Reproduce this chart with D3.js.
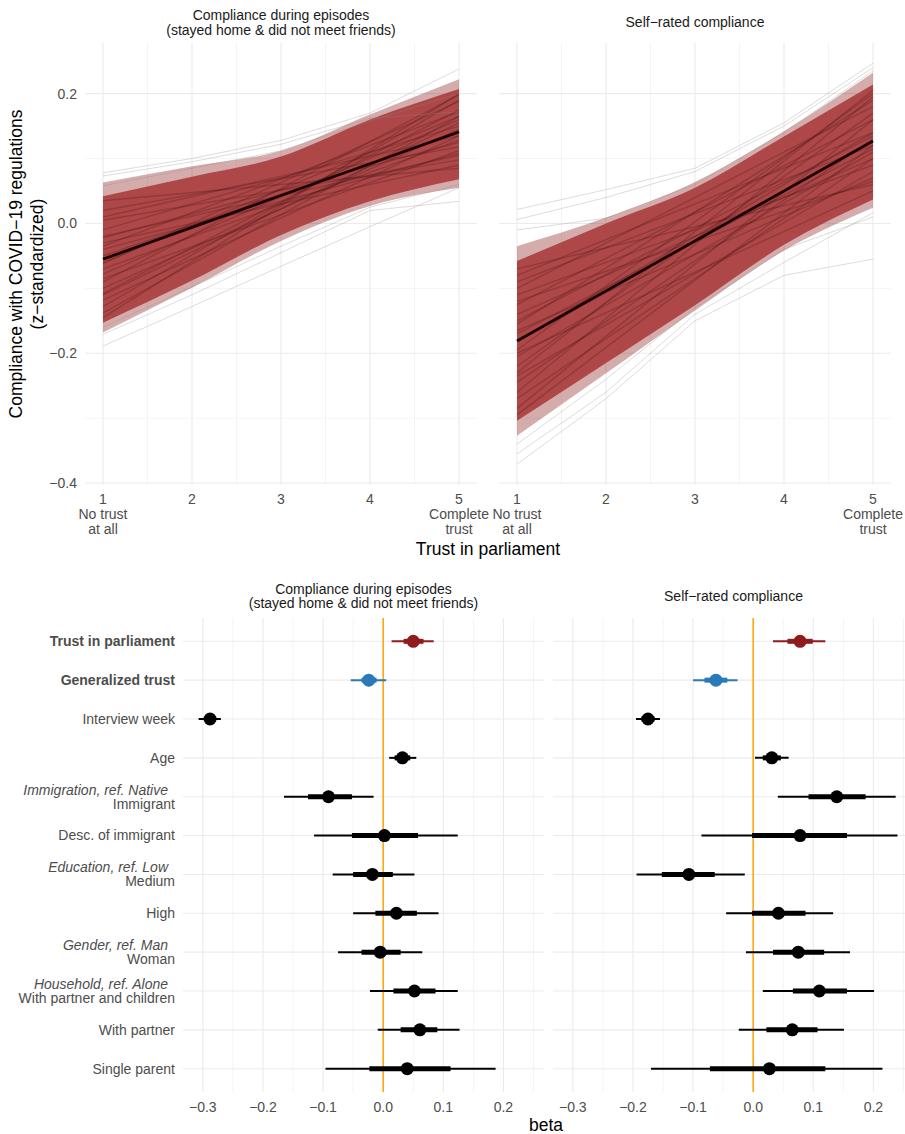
<!DOCTYPE html>
<html>
<head>
<meta charset="utf-8">
<script src="https://cdn.jsdelivr.net/npm/d3@7"></script>
<style>
  body { margin: 0; background: #fff; }
  svg { display: block; font-family: "Liberation Sans", Arial, Helvetica, sans-serif; }
</style>
</head>
<body>
<svg id="chart" width="905" height="1134"></svg>
<script>
// ---- top: predicted compliance by trust in parliament ----
const trustLevels = [1, 2, 3, 4, 5];
const trustTickLabels = [["1", "No trust", "at all"], ["2"], ["3"], ["4"], ["5", "Complete", "trust"]];
const outcomeTitles = [
  ["Compliance during episodes", "(stayed home & did not meet friends)"],
  ["Self\u2212rated compliance"],
];

// values at trust = 1..5, one row per outcome
const meanLine = [
  [-0.055, -0.006, 0.043, 0.092, 0.141],
  [-0.181, -0.104, -0.027, 0.050, 0.127],
];
const outerUpper = [
  [0.063, 0.088, 0.112, 0.168, 0.222],
  [-0.035, 0.009, 0.064, 0.142, 0.232],
];
const innerUpper = [
  [0.042, 0.072, 0.103, 0.160, 0.207],
  [-0.058, 0.000, 0.055, 0.134, 0.214],
];
const innerLower = [
  [-0.153, -0.088, -0.018, 0.034, 0.068],
  [-0.304, -0.215, -0.126, -0.033, 0.037],
];
const outerLower = [
  [-0.168, -0.099, -0.027, 0.027, 0.055],
  [-0.327, -0.231, -0.134, -0.042, 0.024],
];

// individual draws visible in the band: [value at trust 1, value at trust 5]
const bandDraws = [
  [[0.035, 0.085], [0.02, 0.118], [0.005, 0.098], [-0.01, 0.150], [-0.022, 0.125], [-0.035, 0.172],
   [-0.04, 0.108], [-0.05, 0.140], [-0.062, 0.188], [-0.07, 0.128], [-0.078, 0.160], [-0.09, 0.198],
   [-0.1, 0.145], [-0.108, 0.175], [-0.118, 0.135], [-0.128, 0.190], [-0.138, 0.165], [-0.145, 0.2],
   [-0.03, 0.09], [-0.085, 0.112], [0.01, 0.135], [-0.06, 0.165], [-0.02, 0.105], [-0.11, 0.155]],
  [[-0.07, 0.06], [-0.09, 0.12], [-0.11, 0.09], [-0.125, 0.16], [-0.14, 0.1], [-0.155, 0.19],
   [-0.165, 0.07], [-0.18, 0.14], [-0.195, 0.2], [-0.205, 0.11], [-0.22, 0.17], [-0.235, 0.08],
   [-0.245, 0.13], [-0.26, 0.195], [-0.27, 0.1], [-0.285, 0.16], [-0.295, 0.12], [-0.1, 0.18],
   [-0.2, 0.05], [-0.15, 0.135], [-0.23, 0.205], [-0.08, 0.14], [-0.17, 0.115], [-0.12, 0.065]],
];

// outlying draws drawn in grey, values at trust = 1..5
const outlierDraws = [
  [[0.078, 0.100, 0.128, 0.170, 0.238],
   [0.073, 0.095, 0.122, 0.162, 0.172],
   [0.058, 0.085, 0.112, 0.158, 0.200],
   [-0.171, -0.110, -0.045, 0.020, 0.034],
   [-0.189, -0.128, -0.066, -0.005, 0.055],
   [-0.160, -0.098, -0.035, 0.025, 0.060]],
  [[0.0215, 0.052, 0.085, 0.155, 0.247],
   [0.006, 0.040, 0.080, 0.150, 0.240],
   [-0.010, 0.008, 0.060, 0.140, 0.235],
   [-0.355, -0.260, -0.140, -0.060, 0.0165],
   [-0.371, -0.270, -0.150, -0.080, -0.055],
   [-0.340, -0.240, -0.130, -0.040, 0.010]],
];

// ---- bottom: coefficient plot ----
const terms = [
  "Trust in parliament", "Generalized trust", "Interview week", "Age", "Immigrant",
  "Desc. of immigrant", "Medium", "High", "Woman", "With partner and children",
  "With partner", "Single parent",
];
const termGroups = ["", "", "", "", "Immigration, ref. Native", "", "Education, ref. Low", "",
  "Gender, ref. Man", "Household, ref. Alone", "", ""];
const betaTicks = [-0.3, -0.2, -0.1, 0.0, 0.1, 0.2];

const estimate = [
  [0.050, -0.024, -0.288, 0.032, -0.091, 0.002, -0.018, 0.022, -0.005, 0.052, 0.061, 0.040],
  [0.078, -0.062, -0.175, 0.031, 0.139, 0.078, -0.107, 0.042, 0.075, 0.110, 0.065, 0.027],
];
const lower95 = [
  [0.014, -0.054, -0.307, 0.010, -0.165, -0.115, -0.084, -0.050, -0.075, -0.022, -0.009, -0.096],
  [0.033, -0.100, -0.195, 0.003, 0.041, -0.086, -0.194, -0.045, -0.012, 0.016, -0.024, -0.170],
];
const upper95 = [
  [0.084, 0.005, -0.270, 0.055, -0.016, 0.124, 0.052, 0.092, 0.065, 0.124, 0.127, 0.187],
  [0.120, -0.026, -0.155, 0.059, 0.237, 0.240, -0.014, 0.133, 0.161, 0.201, 0.151, 0.215],
];
const lower66 = [
  [0.034, -0.036, -0.296, 0.019, -0.125, -0.052, -0.050, -0.013, -0.036, 0.017, 0.029, -0.023],
  [0.057, -0.081, -0.186, 0.016, 0.092, -0.002, -0.152, -0.002, 0.033, 0.066, 0.022, -0.072],
];
const upper66 = [
  [0.067, -0.011, -0.279, 0.045, -0.052, 0.058, 0.016, 0.056, 0.029, 0.087, 0.090, 0.112],
  [0.099, -0.043, -0.164, 0.046, 0.187, 0.156, -0.064, 0.087, 0.118, 0.156, 0.107, 0.120],
];

const GRID = "#ebebeb";
const AXIS_TEXT = "#4d4d4d";
const STRIP_TEXT = "#1a1a1a";

const svg = d3.select("#chart");

function multiLine(g, lines, x, y, lineH, opts) {
  const t = g.append("text")
    .attr("x", x).attr("y", y)
    .attr("text-anchor", opts.anchor || "middle")
    .attr("font-size", opts.size || 14)
    .attr("fill", opts.fill || AXIS_TEXT);
  lines.forEach((s, i) => {
    t.append("tspan").attr("x", x).attr("y", y + i * lineH).attr("dy", "0.35em").text(s);
  });
  return t;
}

// ================= top panels =================
const topArea = { y0: 43, y1: 485 };
const topPanels = [[85.2, 476.8], [499.2, 890.8]];
const yTop = d3.scaleLinear().domain([-0.403, 0.278]).range([topArea.y1, topArea.y0]);

topPanels.forEach((pr, p) => {
  const x = d3.scaleLinear().domain([0.8, 5.2]).range(pr);
  const g = svg.append("g");

  // grid
  [-0.3, -0.1, 0.1].forEach(v => {
    g.append("line").attr("x1", pr[0]).attr("x2", pr[1]).attr("y1", yTop(v)).attr("y2", yTop(v))
      .attr("stroke", GRID).attr("stroke-width", 0.55);
  });
  [1.5, 2.5, 3.5, 4.5].forEach(v => {
    g.append("line").attr("x1", x(v)).attr("x2", x(v)).attr("y1", topArea.y0).attr("y2", topArea.y1)
      .attr("stroke", GRID).attr("stroke-width", 0.55);
  });
  [-0.4, -0.2, 0, 0.2].forEach(v => {
    g.append("line").attr("x1", pr[0]).attr("x2", pr[1]).attr("y1", yTop(v)).attr("y2", yTop(v))
      .attr("stroke", GRID).attr("stroke-width", 1.1);
  });
  trustLevels.forEach(v => {
    g.append("line").attr("x1", x(v)).attr("x2", x(v)).attr("y1", topArea.y0).attr("y2", topArea.y1)
      .attr("stroke", GRID).attr("stroke-width", 1.1);
  });

  const band = (lo, hi) => d3.area()
    .x((d, i) => x(trustLevels[i]))
    .y0((d, i) => yTop(lo[i]))
    .y1((d, i) => yTop(hi[i]))
    .curve(d3.curveMonotoneX)(trustLevels);

  g.append("path").attr("d", band(outerLower[p], outerUpper[p]))
    .attr("fill", "#8b1a1a").attr("fill-opacity", 0.36);
  g.append("path").attr("d", band(innerLower[p], innerUpper[p]))
    .attr("fill", "#ad4748");

  bandDraws[p].forEach(d => {
    g.append("line")
      .attr("x1", x(1)).attr("y1", yTop(d[0]))
      .attr("x2", x(5)).attr("y2", yTop(d[1]))
      .attr("stroke", "#2a0505").attr("stroke-opacity", 0.2).attr("stroke-width", 1.4);
  });

  const line = d3.line().x((d, i) => x(trustLevels[i])).y(d => yTop(d));
  outlierDraws[p].forEach(d => {
    g.append("path").attr("d", line(d)).attr("fill", "none")
      .attr("stroke", "#8c8c8c").attr("stroke-opacity", 0.3).attr("stroke-width", 1);
  });

  g.append("path").attr("d", line(meanLine[p])).attr("fill", "none")
    .attr("stroke", "#1c0303").attr("stroke-width", 2.8);

  // x tick labels
  trustLevels.forEach((v, i) => {
    multiLine(g, trustTickLabels[i], x(v), 499, 15, { size: 14 });
  });

  // strip title
  const t = outcomeTitles[p];
  const cx = (pr[0] + pr[1]) / 2;
  if (t.length === 2) multiLine(g, t, cx, 15, 15, { fill: STRIP_TEXT });
  else multiLine(g, t, cx, 22, 15, { fill: STRIP_TEXT });
});

// y ticks (left panel only)
[-0.4, -0.2, 0, 0.2].forEach(v => {
  svg.append("text").attr("x", 77).attr("y", yTop(v)).attr("dy", "0.35em")
    .attr("text-anchor", "end").attr("font-size", 14).attr("fill", AXIS_TEXT)
    .text(d3.format(".1f")(v));
});

// axis titles
svg.append("text").attr("x", (topPanels[0][0] + topPanels[1][1]) / 2).attr("y", 549).attr("dy", "0.35em")
  .attr("text-anchor", "middle").attr("font-size", 17.5).attr("fill", "#000").text("Trust in parliament");
const yTitle = svg.append("g").attr("transform", `translate(0,${(topArea.y0 + topArea.y1) / 2})`);
["Compliance with COVID\u221219 regulations", "(z\u2212standardized)"].forEach((s, i) => {
  yTitle.append("text").attr("transform", `translate(${16 + i * 20.5},0) rotate(-90)`)
    .attr("dy", "0.35em").attr("text-anchor", "middle").attr("font-size", 17.5).attr("fill", "#000").text(s);
});

// ================= bottom panels =================
const botArea = { y0: 618, y1: 1092 };
const botPanels = [[183, 544], [553, 914]];
const yRow = d3.scalePoint().domain(terms).range([botArea.y0, botArea.y1]).padding(0.6);

function termColor(i) {
  if (i === 0) return "#8f1b1d";
  if (i === 1) return "#2a7ab8";
  return "#000";
}

botPanels.forEach((pr, p) => {
  const x = d3.scaleLinear().domain([-0.333, 0.2675]).range(pr);
  const g = svg.append("g");

  [-0.25, -0.15, -0.05, 0.05, 0.15, 0.25].forEach(v => {
    g.append("line").attr("x1", x(v)).attr("x2", x(v)).attr("y1", botArea.y0).attr("y2", botArea.y1)
      .attr("stroke", GRID).attr("stroke-width", 0.55);
  });
  betaTicks.forEach(v => {
    g.append("line").attr("x1", x(v)).attr("x2", x(v)).attr("y1", botArea.y0).attr("y2", botArea.y1)
      .attr("stroke", GRID).attr("stroke-width", 1.1);
  });
  terms.forEach(tm => {
    g.append("line").attr("x1", pr[0]).attr("x2", pr[1]).attr("y1", yRow(tm)).attr("y2", yRow(tm))
      .attr("stroke", GRID).attr("stroke-width", 1.1);
  });

  g.append("line").attr("x1", x(0)).attr("x2", x(0)).attr("y1", botArea.y0).attr("y2", botArea.y1)
    .attr("stroke", "#ffa500").attr("stroke-width", 1.5);

  terms.forEach((tm, i) => {
    const yy = yRow(tm);
    const c = termColor(i);
    g.append("line").attr("x1", x(lower95[p][i])).attr("x2", x(upper95[p][i]))
      .attr("y1", yy).attr("y2", yy).attr("stroke", c).attr("stroke-width", 2);
    g.append("line").attr("x1", x(lower66[p][i])).attr("x2", x(upper66[p][i]))
      .attr("y1", yy).attr("y2", yy).attr("stroke", c).attr("stroke-width", 5);
    g.append("circle").attr("cx", x(estimate[p][i])).attr("cy", yy).attr("r", 6.5).attr("fill", c);
  });

  betaTicks.forEach(v => {
    g.append("text").attr("x", x(v)).attr("y", 1107).attr("dy", "0.35em")
      .attr("text-anchor", "middle").attr("font-size", 14).attr("fill", AXIS_TEXT)
      .text(d3.format(".1f")(v));
  });

  const t = outcomeTitles[p];
  const cx = (pr[0] + pr[1]) / 2;
  if (t.length === 2) multiLine(g, t, cx, 589, 14.5, { fill: STRIP_TEXT });
  else multiLine(g, t, cx, 596, 14.5, { fill: STRIP_TEXT });
});

// row labels
terms.forEach((tm, i) => {
  const yy = yRow(tm);
  const bold = i < 2;
  if (termGroups[i]) {
    svg.append("text").attr("x", 168).attr("y", yy - 7).attr("dy", "0.35em")
      .attr("text-anchor", "end").attr("font-size", 14).attr("font-style", "italic")
      .attr("fill", AXIS_TEXT).text(termGroups[i]);
    svg.append("text").attr("x", 175).attr("y", yy + 7).attr("dy", "0.35em")
      .attr("text-anchor", "end").attr("font-size", 14).attr("fill", AXIS_TEXT).text(tm);
  } else {
    svg.append("text").attr("x", 175).attr("y", yy).attr("dy", "0.35em")
      .attr("text-anchor", "end").attr("font-size", 14)
      .attr("font-weight", bold ? "bold" : "normal")
      .attr("fill", AXIS_TEXT).text(tm);
  }
});

svg.append("text").attr("x", 546).attr("y", 1125).attr("dy", "0.35em")
  .attr("text-anchor", "middle").attr("font-size", 17.5).attr("fill", "#000").text("beta");
</script>
</body>
</html>
